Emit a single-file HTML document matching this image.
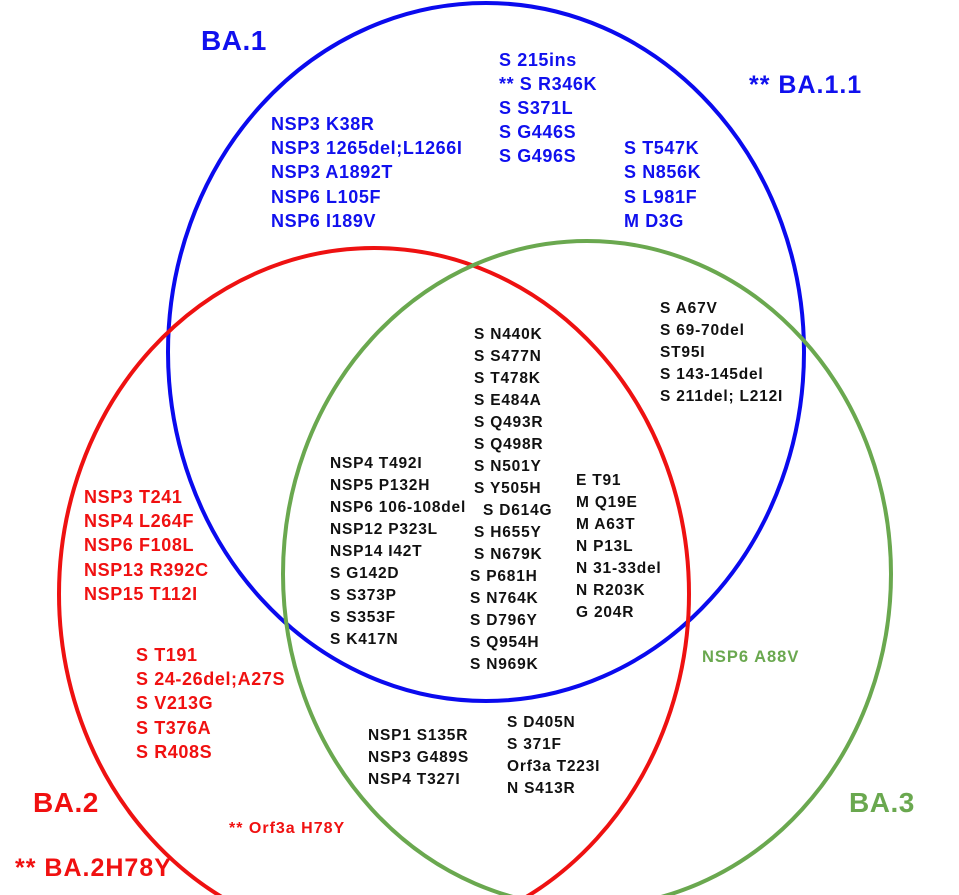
<!DOCTYPE html>
<html><head><style>
html,body{margin:0;padding:0;background:#fff;}
svg{display:block;}
text{font-family:"Liberation Sans",sans-serif;font-weight:bold;}
.b{fill:#1010ee;font-size:18px;letter-spacing:0.6px;}
.k{fill:#111;font-size:15.5px;letter-spacing:0.8px;}
.r{fill:#f01010;font-size:18px;letter-spacing:0.6px;}
.g{fill:#6aa84f;}
</style></head><body>
<svg width="959" height="895" viewBox="0 0 959 895">
<ellipse cx="486" cy="352" rx="318" ry="349" fill="none" stroke="#0a0aee" stroke-width="4"/>
<ellipse cx="374" cy="594" rx="315" ry="346" fill="none" stroke="#ee1111" stroke-width="4"/>
<ellipse cx="587" cy="574" rx="304" ry="333" fill="none" stroke="#6aa84f" stroke-width="4"/>

<text x="201" y="50" class="b" style="font-size:28px;letter-spacing:0.5px">BA.1</text>
<text x="749" y="93" class="b" style="font-size:25px;letter-spacing:1px">** BA.1.1</text>
<g class="b">
<text x="499" y="66">S 215ins</text>
<text x="499" y="90">** S R346K</text>
<text x="499" y="114">S S371L</text>
<text x="499" y="138">S G446S</text>
<text x="499" y="162">S G496S</text>
<text x="271" y="130">NSP3 K38R</text>
<text x="271" y="154">NSP3 1265del;L1266I</text>
<text x="271" y="178">NSP3 A1892T</text>
<text x="271" y="203">NSP6 L105F</text>
<text x="271" y="227">NSP6 I189V</text>
<text x="624" y="154">S T547K</text>
<text x="624" y="178">S N856K</text>
<text x="624" y="203">S L981F</text>
<text x="624" y="227">M D3G</text>
</g>

<g class="k">
<text x="660" y="313">S A67V</text>
<text x="660" y="335">S 69-70del</text>
<text x="660" y="357">ST95I</text>
<text x="660" y="379">S 143-145del</text>
<text x="660" y="401">S 211del; L212I</text>

<text x="474" y="339">S N440K</text>
<text x="474" y="361">S S477N</text>
<text x="474" y="383">S T478K</text>
<text x="474" y="405">S E484A</text>
<text x="474" y="427">S Q493R</text>
<text x="474" y="449">S Q498R</text>
<text x="474" y="471">S N501Y</text>
<text x="474" y="493">S Y505H</text>
<text x="483" y="515">S D614G</text>
<text x="474" y="537">S H655Y</text>
<text x="474" y="559">S N679K</text>
<text x="470" y="581">S P681H</text>
<text x="470" y="603">S N764K</text>
<text x="470" y="625">S D796Y</text>
<text x="470" y="647">S Q954H</text>
<text x="470" y="669">S N969K</text>

<text x="330" y="468">NSP4 T492I</text>
<text x="330" y="490">NSP5 P132H</text>
<text x="330" y="512">NSP6 106-108del</text>
<text x="330" y="534">NSP12 P323L</text>
<text x="330" y="556">NSP14 I42T</text>
<text x="330" y="578">S G142D</text>
<text x="330" y="600">S S373P</text>
<text x="330" y="622">S S353F</text>
<text x="330" y="644">S K417N</text>

<text x="576" y="485">E T91</text>
<text x="576" y="507">M Q19E</text>
<text x="576" y="529">M A63T</text>
<text x="576" y="551">N P13L</text>
<text x="576" y="573">N 31-33del</text>
<text x="576" y="595">N R203K</text>
<text x="576" y="617">G 204R</text>

<text x="368" y="740">NSP1 S135R</text>
<text x="368" y="762">NSP3 G489S</text>
<text x="368" y="784">NSP4 T327I</text>
<text x="507" y="727">S D405N</text>
<text x="507" y="749">S 371F</text>
<text x="507" y="771">Orf3a T223I</text>
<text x="507" y="793">N S413R</text>
</g>

<g class="r">
<text x="84" y="503">NSP3 T241</text>
<text x="84" y="527">NSP4 L264F</text>
<text x="84" y="551">NSP6 F108L</text>
<text x="84" y="576">NSP13 R392C</text>
<text x="84" y="600">NSP15 T112I</text>
<text x="136" y="661">S T191</text>
<text x="136" y="685">S 24-26del;A27S</text>
<text x="136" y="709">S V213G</text>
<text x="136" y="734">S T376A</text>
<text x="136" y="758">S R408S</text>
<text x="229" y="833" style="font-size:16px;letter-spacing:1px">** Orf3a H78Y</text>
<text x="33" y="812" style="font-size:28px;letter-spacing:0.5px">BA.2</text>
<text x="15" y="876" style="font-size:25px;letter-spacing:1px">** BA.2H78Y</text>
</g>

<text x="702" y="662" class="g" style="font-size:16.5px;letter-spacing:1px">NSP6 A88V</text>
<text x="849" y="812" class="g" style="font-size:28px;letter-spacing:0.5px">BA.3</text>
</svg>
</body></html>
